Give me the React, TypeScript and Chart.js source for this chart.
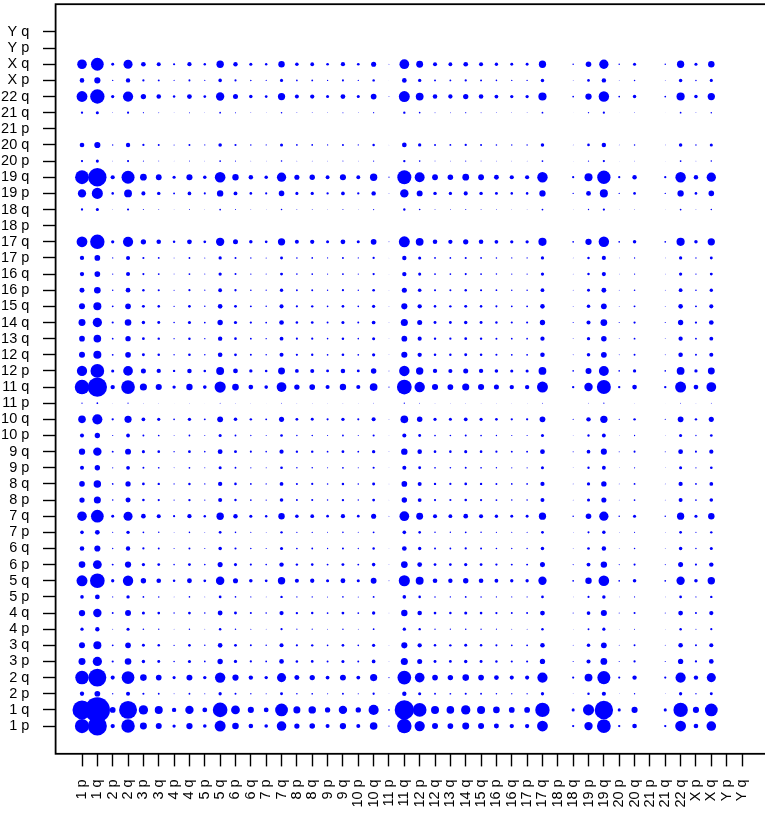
import { useEffect, useRef } from "react";
import { BubbleController, Chart, ChartConfiguration, LinearScale, PointElement } from "chart.js";

Chart.register(BubbleController, PointElement, LinearScale);

// chromosome arms, same order on both axes
const arms = [
  "1 p", "1 q", "2 p", "2 q", "3 p", "3 q", "4 p", "4 q", "5 p", "5 q",
  "6 p", "6 q", "7 p", "7 q", "8 p", "8 q", "9 p", "9 q", "10 p", "10 q",
  "11 p", "11 q", "12 p", "12 q", "13 q", "14 q", "15 q", "16 p", "16 q",
  "17 p", "17 q", "18 p", "18 q", "19 p", "19 q", "20 p", "20 q", "21 p",
  "21 q", "22 q", "X p", "X q", "Y p", "Y q",
];

// per-arm weight (dot diameter = row weight * column weight)
const armWeight = [
  3.78, 5.03, 1.14, 3.57, 1.85, 1.59, 0.87, 1.67, 0.95, 2.91,
  1.75, 1.22, 0.95, 2.54, 1.4, 1.48, 1.06, 1.67, 1.06, 2.01,
  0.34, 3.84, 2.72, 1.59, 1.51, 1.85, 1.59, 1.32, 1.14,
  1.14, 2.86, 0, 0.61, 2.2, 3.65, 0.61, 1.22, 0,
  0.61, 2.86, 1.22, 2.54, 0, 0,
];

const FONT = "'Liberation Sans', Arial, sans-serif";

const boxPlugin = {
  id: "box",
  afterDraw(chart: Chart) {
    const { ctx, chartArea: a } = chart;
    ctx.save();
    ctx.strokeStyle = "#000";
    ctx.lineWidth = 1.8;
    ctx.strokeRect(a.left, a.top, a.right - a.left, a.bottom - a.top);
    ctx.restore();
  },
};

export default function App() {
  const canvasRef = useRef<HTMLCanvasElement | null>(null);

  useEffect(() => {
    if (!canvasRef.current) return;

    const points: { x: number; y: number; r: number }[] = [];
    armWeight.forEach((wy, i) => {
      armWeight.forEach((wx, j) => {
        const r = (wx * wy) / 2;
        if (r > 0) points.push({ x: j, y: i, r });
      });
    });

    const axis = (horizontal: boolean) => ({
      type: "linear" as const,
      min: -1.72,
      max: arms.length - 1 + 1.72,
      afterBuildTicks: (scale: any) => {
        scale.ticks = arms.map((_, i) => ({ value: i }));
      },
      afterFit: (scale: any) => {
        if (horizontal) scale.height = 813 - 753.8;
        else scale.width = 55.6;
        scale.paddingTop = 0;
        scale.paddingBottom = 0;
        scale.paddingLeft = 0;
        scale.paddingRight = 0;
      },
      grid: {
        drawOnChartArea: false,
        drawTicks: true,
        tickLength: 12.6,
        tickColor: "#000",
        tickWidth: 1.4,
      },
      border: { display: false },
      ticks: {
        autoSkip: false,
        padding: horizontal ? 13 : 13.7,
        minRotation: horizontal ? 90 : 0,
        maxRotation: horizontal ? 90 : 0,
        color: "#000",
        font: { family: FONT, size: 14.5 },
        callback: (v: any) => arms[Math.round(Number(v))] ?? "",
      },
    });

    const config: ChartConfiguration<"bubble"> = {
      type: "bubble",
      data: {
        datasets: [
          {
            data: points,
            backgroundColor: "#0000ff",
            borderWidth: 0,
            hoverRadius: 0,
          },
        ],
      },
      options: {
        responsive: false,
        animation: false,
        events: [],
        layout: {
          autoPadding: false,
          padding: { top: 4.2, right: 780 - 768.4, left: 0, bottom: 0 },
        },
        scales: {
          x: axis(true),
          y: axis(false),
        },
      },
      plugins: [boxPlugin],
    };

    const chart = new Chart(canvasRef.current, config);
    return () => chart.destroy();
  }, []);

  return (
    <div
      style={{
        position: "absolute",
        left: 0,
        top: 0,
        width: 765,
        height: 813,
        overflow: "hidden",
        background: "#fff",
      }}
    >
      <canvas ref={canvasRef} width={780} height={813} style={{ display: "block" }} />
    </div>
  );
}
